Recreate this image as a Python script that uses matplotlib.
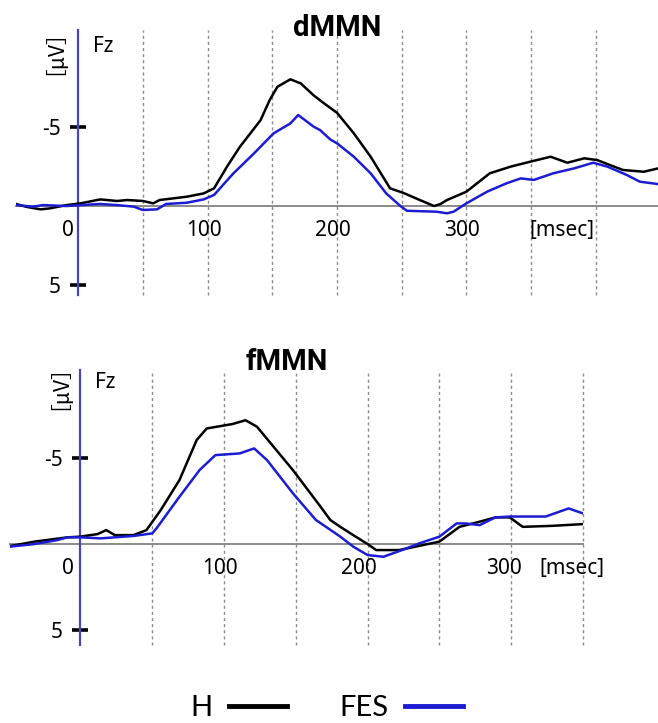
import matplotlib
matplotlib.use("Agg")
import matplotlib.pyplot as plt
from matplotlib.lines import Line2D
import matplotlib.transforms as mtransforms

# ---------------- data ----------------
# dMMN (top panel): time [ms], amplitude [uV]
d_H_t = [-48, -40, -29, -22, -9, 2, 17, 30, 38, 50, 58, 63, 74, 84, 97, 105, 115, 125,
         141, 148, 154, 164, 172, 182, 190, 200, 213, 226, 241, 251, 264, 275, 280, 285,
         300, 318, 334, 349, 365, 378, 391, 401, 411, 421, 437, 448]
d_H_v = [-0.13, 0.05, 0.21, 0.15, -0.06, -0.17, -0.42, -0.32, -0.38, -0.32, -0.17, -0.38,
         -0.49, -0.59, -0.8, -1.12, -2.49, -3.75, -5.44, -6.71, -7.55, -8.02, -7.76, -7.0,
         -6.5, -5.9, -4.6, -3.12, -1.12, -0.84, -0.38, 0.0, -0.13, -0.38, -0.91, -2.07,
         -2.49, -2.8, -3.12, -2.74, -3.02, -2.91, -2.59, -2.28, -2.17, -2.38]
d_F_t = [-48, -35, -27, -9, 2, 17, 30, 43, 50, 61, 68, 84, 97, 105, 120, 136, 151, 164,
         170, 182, 187, 195, 200, 213, 226, 238, 249, 254, 277, 285, 290, 300, 316, 331,
         342, 352, 367, 383, 398, 409, 424, 434, 448]
d_F_v = [-0.06, 0.04, -0.06, 0.0, -0.06, -0.13, -0.06, 0.04, 0.25, 0.21, -0.13, -0.21,
         -0.42, -0.7, -2.07, -3.34, -4.6, -5.23, -5.76, -5.02, -4.8, -4.2, -3.97, -3.12,
         -2.07, -0.8, 0.0, 0.3, 0.36, 0.46, 0.36, -0.17, -0.91, -1.44, -1.75, -1.65,
         -2.07, -2.38, -2.74, -2.49, -1.96, -1.54, -1.39]

# fMMN (bottom panel)
f_H_t = [-49, -32, -9, 0, 12, 18, 24, 37, 46, 56, 69, 81, 88, 106, 115, 123, 148, 167,
         174, 181, 190, 200, 206, 222, 250, 264, 278, 289, 299, 308, 329, 350]
f_H_v = [0.12, -0.14, -0.39, -0.43, -0.58, -0.81, -0.52, -0.52, -0.81, -1.98, -3.72,
         -6.05, -6.72, -6.98, -7.2, -6.82, -4.3, -2.2, -1.4, -1.0, -0.52, 0.0, 0.35, 0.35,
         -0.14, -1.0, -1.3, -1.55, -1.55, -1.0, -1.06, -1.16]
f_F_t = [-49, -32, -16, -9, 0, 14, 37, 50, 53, 69, 83, 94, 111, 121, 130, 148, 164, 181,
         190, 200, 211, 224, 236, 250, 262, 268, 278, 289, 299, 324, 340, 350]
f_F_v = [0.15, 0.0, -0.23, -0.39, -0.39, -0.33, -0.47, -0.62, -0.91, -2.75, -4.3, -5.17,
         -5.27, -5.56, -4.88, -2.95, -1.4, -0.43, 0.15, 0.64, 0.74, 0.35, -0.04, -0.43,
         -1.2, -1.2, -1.1, -1.55, -1.6, -1.6, -2.07, -1.78]

titles = ["dMMN", "fMMN"]
series_names = ["H", "FES"]
ytick_vals = [-5, 5]
ytick_labels = ["-5", "5"]
xtick_vals = [0, 100, 200, 300]
d_grid = [50, 100, 150, 200, 250, 300, 350, 400]
f_grid = [50, 100, 150, 200, 250, 300, 350]

# ---------------- style ----------------
C_H = "#000000"
C_F = "#1c1cd2"
C_AX = "#4646c4"
C_BASE = "#8a8a8a"
FONT = ["Noto Sans", "DejaVu Sans"]
BOLD = ["Roboto", "DejaVu Sans"]
LIGHT = ["Lato", "Noto Sans", "DejaVu Sans"]
CJK = ["Noto Sans CJK JP", "DejaVu Sans"]

fig = plt.figure(figsize=(6.58, 7.23), dpi=100)
W, H = 658.0, 723.0

def px_axes(l, r, top, bot):
    return fig.add_axes([l / W, (H - bot) / H, (r - l) / W, (bot - top) / H])

ax1 = px_axes(16, 658, 30, 295)
ax1.set_xlim(-48, 448)
ax1.set_ylim(5.63, -11.14)

ax2 = px_axes(10, 583, 370, 645)
ax2.set_xlim(-49, 350)
ax2.set_ylim(5.87, -10.12)

panels = [
    (ax1, d_H_t, d_H_v, d_F_t, d_F_v, d_grid, titles[0], 200, 1.008,
     {0: -10, 100: -4, 200: -4, 300: -4}, 374, 11.6, 0.936, -26, 0.955),
    (ax2, f_H_t, f_H_v, f_F_t, f_F_v, f_grid, titles[1], 144, 1.03,
     {0: -12, 100: -4, 200: -9, 300: -7}, 342, 10.4, 0.956, -22, 0.975),
]

for (ax, ht, hv, ft, fv, grid, title, tx, ty, xoffs, msec_x, fzx, fzy, uvx, uvy) in panels:
    ax.set_facecolor("none")
    for s in ["top", "right"]:
        ax.spines[s].set_visible(False)
    ax.spines["left"].set_position(("data", 0))
    ax.spines["left"].set_color(C_AX)
    ax.spines["left"].set_linewidth(1.6)
    ax.spines["bottom"].set_position(("data", 0))
    ax.spines["bottom"].set_color(C_BASE)
    ax.spines["bottom"].set_linewidth(1.4)
    ax.spines["bottom"].set_zorder(1)

    for g in grid:
        ax.axvline(g, color="#8c8c8c", lw=1.0, ls=(0, (2.2, 2.2)), zorder=0, clip_on=False)

    ax.plot(ht, hv, color=C_H, lw=1.8, zorder=3)
    ax.plot(ft, fv, color=C_F, lw=1.8, zorder=4)

    ax.set_yticks(ytick_vals)
    ax.set_yticklabels(ytick_labels, family=FONT, fontsize=15)
    ax.tick_params(axis="y", direction="inout", length=11, width=2.6, color="black",
                   pad=7)
    ax.set_xticks([])

    for v in xtick_vals:
        ax.annotate(str(v), xy=(v, 0), xytext=(xoffs[v] * 0.72, -17.3),
                    textcoords="offset points", ha="center", va="center",
                    family=FONT, fontsize=15)
    ax.annotate("[msec]", xy=(msec_x, 0), xytext=(0, -17.3), textcoords="offset points",
                ha="center", va="center", family=FONT, fontsize=15)

    trans = mtransforms.blended_transform_factory(ax.transData, ax.transAxes)
    ax.text(tx, ty, title, transform=trans, ha="center", va="center",
            family=BOLD, fontsize=21, fontweight="bold")
    ax.text(fzx, fzy, "Fz", transform=trans, ha="left", va="center",
            family=FONT, fontsize=15)
    ax.text(uvx, uvy, "［μV］", transform=trans, ha="center", va="center",
            rotation=90, family=CJK, fontsize=15)

handles = [Line2D([], [], color=C_H, lw=3.5), Line2D([], [], color=C_F, lw=3.5)]
fig.legend(handles, series_names, loc="center", bbox_to_anchor=(0.497, 0.021),
           ncol=2, markerfirst=False, frameon=False, handlelength=2.0,
           handletextpad=0.55, columnspacing=1.8,
           prop={"family": LIGHT, "size": 21, "weight": "normal"})

fig.savefig("out.png", dpi=100)
